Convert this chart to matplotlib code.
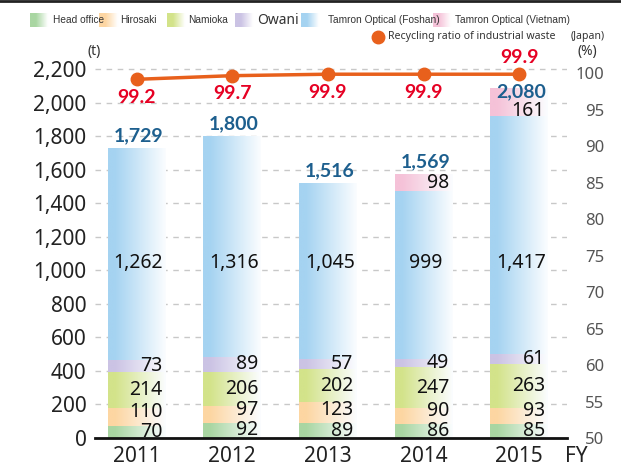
import numpy as np
import matplotlib
matplotlib.use('Agg')
from matplotlib import pyplot as plt
from matplotlib.colors import LinearSegmentedColormap
from matplotlib.lines import Line2D

years = ['2011', '2012', '2013', '2014', '2015']
head_office = [70, 92, 89, 86, 85]
hirosaki = [110, 97, 123, 90, 93]
namioka = [214, 206, 202, 247, 263]
owani = [73, 89, 57, 49, 61]
foshan = [1262, 1316, 1045, 999, 1417]
vietnam = [0, 0, 0, 98, 161]
recycling = [99.2, 99.7, 99.9, 99.9, 99.9]

series = [head_office, hirosaki, namioka, owani, foshan, vietnam]
names = ['Head office', 'Hirosaki', 'Namioka', 'Owani',
         'Tamron Optical (Foshan)', 'Tamron Optical (Vietnam)']
colors = ['#a9d6a2', '#fdd6a2', '#d3e38a', '#cbc3e4', '#a5d3f1', '#f5c2d8']

plt.rcParams['font.family'] = ['Noto Sans', 'DejaVu Sans']
BOLD = ['Lato', 'Noto Sans', 'DejaVu Sans']

fig = plt.figure(figsize=(6.21, 4.70), dpi=100)
ax = fig.add_axes([95/621, 32/470, 472/621, 378/470])
ax2 = ax.twinx()

W = 0.6
grad = np.linspace(0, 1, 200).reshape(1, -1)


def fade(color):
    return LinearSegmentedColormap.from_list(
        'g', [(0, color), (0.3, color), (0.9, '#ffffff'), (1, '#ffffff')])


def fade_bar(color):
    return LinearSegmentedColormap.from_list(
        'g', [(0, color), (0.12, color), (1, '#fbfdff')])


x = np.arange(len(years))
bottoms = np.zeros(len(years))
last_lab = np.full(len(years), -1000.0)
for k, s in enumerate(series):
    for i in range(len(years)):
        v = s[i]
        if v == 0:
            continue
        b = bottoms[i]
        ax.imshow(grad, cmap=fade_bar(colors[k]), aspect='auto',
                  extent=[x[i] - W/2, x[i] + W/2, b, b + v], zorder=2)
        if k == 4:
            ax.text(x[i] + 0.02, 1045, f'{v:,}', ha='center', va='center',
                    fontsize=14, color='#111111', zorder=5)
        else:
            ly = max(b + v/2, last_lab[i] + 120)
            last_lab[i] = ly
            dy = -6 if k == 5 and i == 4 else 0
            ax.annotate(f'{v:,}', (x[i] + W/2 - 0.03, ly),
                        xytext=(0, dy), textcoords='offset points',
                        ha='right', va='center', fontsize=14,
                        color='#111111', zorder=5)
    bottoms += np.array(s)

for i in range(len(years)):
    dy = -8 if i == 4 else 3
    ax.annotate(f'{int(bottoms[i]):,}', (x[i] + 0.02, bottoms[i]),
                xytext=(0, dy), textcoords='offset points', ha='center',
                va='bottom', fontsize=14, fontweight='bold', family=BOLD,
                color='#1d5f8e', zorder=5)

ax.set_xlim(-0.434, 4.50)
ax.set_ylim(0, 2254)
ax.set_yticks(range(0, 2201, 200))
ax.set_yticklabels([f'{t:,}' for t in range(0, 2201, 200)])
ax.set_xticks(x)
ax.set_xticklabels(years)
ax.tick_params(axis='y', length=0, pad=6, labelsize=15, labelcolor='#222222')
ax.tick_params(axis='x', length=0, pad=6, labelsize=15, labelcolor='#222222')
ax.grid(axis='y', linestyle=(0, (4, 4)), color='#c8c8c8', lw=1, zorder=0)
ax.set_axisbelow(True)
for sp in ['top', 'right', 'left']:
    ax.spines[sp].set_visible(False)
ax.spines['bottom'].set_linewidth(2)
ax.spines['bottom'].set_color('#111111')
ax.spines['bottom'].set_zorder(6)

# recycling ratio
ax2.plot(x, recycling, color='#e8601c', lw=2.5, marker='o', markersize=9,
         zorder=4)
for i, v in enumerate(recycling):
    dy = 6 if i == 4 else -7
    ax2.annotate(f'{v}', (x[i], v), xytext=(0, dy), textcoords='offset points',
                 ha='center', va='bottom' if dy > 0 else 'top', fontsize=14,
                 fontweight='bold', family=BOLD, color='#e60023')
ax2.set_ylim(50, 101.85)
ax2.set_yticks(range(50, 101, 5))
ax2.tick_params(axis='y', length=0, pad=27, labelsize=12, labelcolor='#555555')
for lab in ax2.get_yticklabels():
    lab.set_horizontalalignment('right')
for sp in ax2.spines.values():
    sp.set_visible(False)

# units
fig.text(87/621, 1 - 51/470, '(t)', fontsize=10, color='#333333',
         ha='left', va='center')
fig.text(578/621, 1 - 52/470, '(%)', fontsize=10, color='#333333',
         ha='left', va='center')
fig.text(565/621, 1 - 456/470, 'FY', fontsize=15, color='#222222',
         ha='left', va='center')

# legend
patch_x = [30, 99, 167, 235, 301, 433]
text_x = [53, 120, 188, 257, 328, 455]
for k in range(len(names)):
    lax = fig.add_axes([patch_x[k]/621, 1 - 27/470, 20/621, 14/470])
    lax.imshow(grad, cmap=fade(colors[k]), aspect='auto', extent=[0, 1, 0, 1])
    lax.axis('off')
    if names[k] == 'Owani':
        fig.text(text_x[k]/621, 1 - 20/470, names[k], fontsize=10,
                 color='#333333', ha='left', va='center')
    else:
        fig.text(text_x[k]/621, 1 - 20/470, names[k], fontsize=7.3,
                 family=['Liberation Sans', 'DejaVu Sans'],
                 color='#333333', ha='left', va='center')

fig.add_artist(Line2D([378/621], [1 - 37/470], marker='o', markersize=9,
                      color='#e8601c', transform=fig.transFigure))
fig.text(388/621, 1 - 37/470, 'Recycling ratio of industrial waste',
         fontsize=7.6, color='#333333', ha='left', va='center')
fig.text(571/621, 1 - 37/470, '(Japan)', fontsize=7.6, color='#333333',
         ha='left', va='center')
fig.add_artist(Line2D([0, 1], [1 - 1/470, 1 - 1/470], color='#222222', lw=2,
                      transform=fig.transFigure))

fig.savefig('out.png', dpi=100)
